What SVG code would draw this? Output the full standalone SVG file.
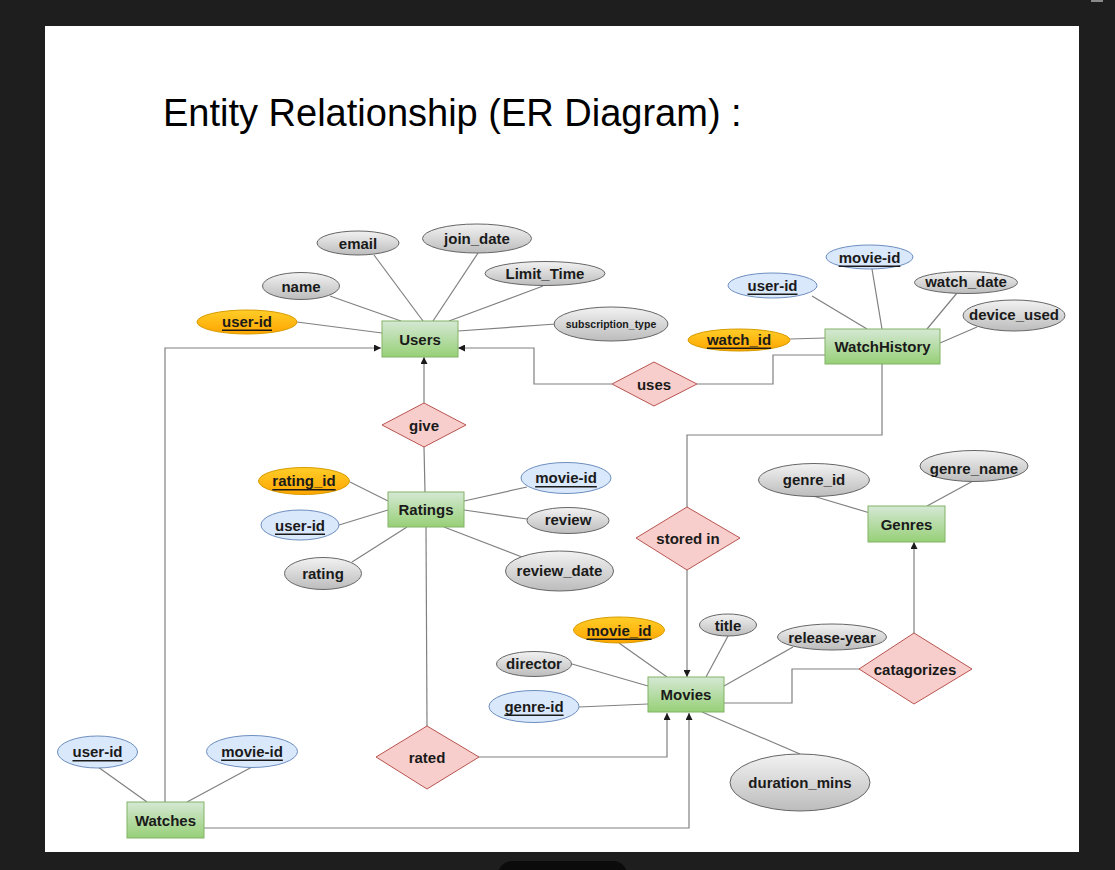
<svg xmlns="http://www.w3.org/2000/svg" width="1115" height="870" viewBox="0 0 1115 870">
<defs>
<linearGradient id="gGreen" x1="0" y1="0" x2="0" y2="1"><stop offset="0" stop-color="#d5e8d4"/><stop offset="1" stop-color="#97d077"/></linearGradient>
<linearGradient id="gGray" x1="0" y1="0" x2="0" y2="1"><stop offset="0" stop-color="#f2f2f2"/><stop offset="1" stop-color="#bcbcbc"/></linearGradient>
<linearGradient id="gOrange" x1="0" y1="0" x2="0" y2="1"><stop offset="0" stop-color="#ffcd28"/><stop offset="1" stop-color="#ffa500"/></linearGradient>
<marker id="arr" viewBox="0 0 10 10" refX="10" refY="5" markerWidth="7" markerHeight="7" markerUnits="userSpaceOnUse" orient="auto"><path d="M0,0 L10,5 L0,10 Z" fill="#1a1a1a"/></marker>
</defs>
<style>
.ent{fill:url(#gGreen);stroke:#82b366;stroke-width:1}
.rel{fill:#f8cecc;stroke:#b85450;stroke-width:1}
.att{fill:url(#gGray);stroke:#666666;stroke-width:1}
.key{fill:url(#gOrange);stroke:#d79b00;stroke-width:1}
.fk{fill:#dae8fc;stroke:#6c8ebf;stroke-width:1}
.t{font-family:"Liberation Sans",Arial,sans-serif;font-weight:bold;font-size:15px;fill:#1a1a1a;text-anchor:middle;dominant-baseline:central}
.u{text-decoration:underline}
.ln{fill:none;stroke:#808080;stroke-width:1.2}
.la{fill:none;stroke:#808080;stroke-width:1.2;marker-end:url(#arr)}
</style>
<rect x="0" y="0" width="1115" height="870" fill="#1e1e1e"/>
<rect x="1091" y="0" width="12" height="2" fill="#8a8a8a"/>
<rect x="45" y="26" width="1034" height="826" fill="#ffffff"/>
<rect x="498" y="861" width="129" height="30" rx="14" fill="#0b0b0b"/>
<text x="163" y="126" font-family="'Liberation Sans',Arial,sans-serif" font-size="38" fill="#000000">Entity Relationship (ER Diagram) :</text>

<g id="connectors">
<line class="ln" x1="297" y1="322" x2="382" y2="333"/>
<line class="ln" x1="330" y1="296" x2="401" y2="321"/>
<line class="ln" x1="374" y1="255" x2="423" y2="321"/>
<line class="ln" x1="478" y1="253" x2="433" y2="321"/>
<line class="ln" x1="543" y1="286" x2="449" y2="321"/>
<line class="ln" x1="556" y1="324" x2="458" y2="331"/>
<line class="ln" x1="812" y1="296" x2="867" y2="329"/>
<line class="ln" x1="872" y1="269" x2="882" y2="329"/>
<line class="ln" x1="957" y1="293" x2="927" y2="329"/>
<line class="ln" x1="977" y1="327" x2="940" y2="343"/>
<line class="ln" x1="790" y1="339" x2="825" y2="338"/>
<line class="ln" x1="350" y1="482" x2="388" y2="501"/>
<line class="ln" x1="339" y1="525" x2="388" y2="510"/>
<line class="ln" x1="352" y1="562" x2="407" y2="527"/>
<line class="ln" x1="527" y1="487" x2="464" y2="501"/>
<line class="ln" x1="527" y1="519" x2="464" y2="510"/>
<line class="ln" x1="522" y1="557" x2="444" y2="527"/>
<line class="ln" x1="619" y1="643" x2="667" y2="677"/>
<line class="ln" x1="728" y1="636" x2="706" y2="677"/>
<line class="ln" x1="793" y1="647" x2="724" y2="686"/>
<line class="ln" x1="572" y1="664" x2="648" y2="686"/>
<line class="ln" x1="579" y1="707" x2="648" y2="704"/>
<line class="ln" x1="800" y1="754" x2="702" y2="712"/>
<line class="ln" x1="98" y1="767" x2="147" y2="802"/>
<line class="ln" x1="252" y1="767" x2="187" y2="802"/>
<line class="ln" x1="813" y1="496" x2="870" y2="513"/>
<line class="ln" x1="973" y1="481" x2="927" y2="506"/>
<line class="la" x1="424" y1="403" x2="424" y2="357"/>
<line class="ln" x1="425" y1="492" x2="424" y2="447"/>
<line class="ln" x1="426" y1="527" x2="427" y2="726"/>
<polyline class="ln" points="825,355 773,355 773,384 697,384"/>
<polyline class="la" points="612,384 534,384 534,348 458,348"/>
<polyline class="la" points="165,802 165,348 381,348"/>
<polyline class="la" points="204,828 689,828 689,713"/>
<polyline class="la" points="479,757 667,757 667,713"/>
<polyline class="ln" points="882,364 882,435 687,435 687,507"/>
<line class="la" x1="687" y1="570" x2="687" y2="677"/>
<polyline class="ln" points="724,703 792,703 792,669 859,669"/>
<line class="la" x1="914" y1="633" x2="914" y2="542"/>
</g>

<g id="Users"><rect class="ent" x="382" y="321" width="76" height="36"/><text class="t" x="420" y="339">Users</text></g>
<g id="WatchHistory"><rect class="ent" x="825" y="329" width="115" height="35"/><text class="t" x="882.5" y="346.5">WatchHistory</text></g>
<g id="Ratings"><rect class="ent" x="388" y="492" width="76" height="35"/><text class="t" x="426" y="509.5">Ratings</text></g>
<g id="Movies"><rect class="ent" x="648" y="677" width="76" height="35"/><text class="t" x="686" y="694.5">Movies</text></g>
<g id="Watches"><rect class="ent" x="127" y="802" width="77" height="36"/><text class="t" x="165.5" y="820">Watches</text></g>
<g id="Genres"><rect class="ent" x="868" y="506" width="77" height="36"/><text class="t" x="906.5" y="524">Genres</text></g>

<g id="give"><polygon class="rel" points="424,403 466,425 424,447 382,425"/><text class="t" x="424" y="425">give</text></g>
<g id="uses"><polygon class="rel" points="654,362 697,384 654,406 612,384"/><text class="t" x="654" y="384">uses</text></g>
<g id="storedin"><polygon class="rel" points="687,507 740,538 687,570 636,538"/><text class="t" x="688" y="538">stored in</text></g>
<g id="rated"><polygon class="rel" points="427,726 479,757 427,789 376,757"/><text class="t" x="427" y="757">rated</text></g>
<g id="catagorizes"><polygon class="rel" points="914,633 972,669 914,704 859,669"/><text class="t" x="915" y="669">catagorizes</text></g>

<g id="u_email"><ellipse class="att" cx="358" cy="243" rx="41" ry="12"/><text class="t" x="358" y="243">email</text></g>
<g id="u_join_date"><ellipse class="att" cx="477" cy="238.5" rx="54.5" ry="14.5"/><text class="t" x="477" y="238">join_date</text></g>
<g id="u_limit_time"><ellipse class="att" cx="545" cy="273.5" rx="60" ry="12"/><text class="t" x="545" y="273">Limit_Time</text></g>
<g id="u_name"><ellipse class="att" cx="301" cy="286" rx="38.5" ry="13.5"/><text class="t" x="301" y="286">name</text></g>
<g id="u_user_id"><ellipse class="key" cx="247" cy="322" rx="50" ry="12"/><text class="t u" x="247" y="321">user-id</text></g>
<g id="u_subscription_type"><ellipse class="att" cx="611" cy="324" rx="57" ry="17"/><text class="t" x="611" y="324" style="font-size:10.5px">subscription_type</text></g>

<g id="wh_movie_id"><ellipse class="fk" cx="869.5" cy="257" rx="43.5" ry="12"/><text class="t u" x="869.5" y="257">movie-id</text></g>
<g id="wh_user_id"><ellipse class="fk" cx="772.5" cy="285.5" rx="44.5" ry="12.5"/><text class="t u" x="772.5" y="285">user-id</text></g>
<g id="wh_watch_date"><ellipse class="att" cx="966" cy="282.5" rx="51.5" ry="11"/><text class="t" x="966" y="281">watch_date</text></g>
<g id="wh_device_used"><ellipse class="att" cx="1014" cy="315.5" rx="51" ry="15.5"/><text class="t" x="1014" y="314.5">device_used</text></g>
<g id="wh_watch_id"><ellipse class="key" cx="739" cy="340" rx="51" ry="11"/><text class="t u" x="739" y="339">watch_id</text></g>

<g id="r_rating_id"><ellipse class="key" cx="304" cy="481" rx="45.5" ry="13.5"/><text class="t u" x="304" y="480.5">rating_id</text></g>
<g id="r_user_id"><ellipse class="fk" cx="300" cy="525" rx="39" ry="15"/><text class="t u" x="300" y="525">user-id</text></g>
<g id="r_rating"><ellipse class="att" cx="323" cy="573.5" rx="38.5" ry="16"/><text class="t" x="323" y="573.5">rating</text></g>
<g id="r_movie_id"><ellipse class="fk" cx="566" cy="478" rx="45" ry="15.5"/><text class="t u" x="566" y="477.5">movie-id</text></g>
<g id="r_review"><ellipse class="att" cx="568" cy="520.5" rx="41" ry="13"/><text class="t" x="568" y="519.5">review</text></g>
<g id="r_review_date"><ellipse class="att" cx="559.5" cy="571" rx="54" ry="20"/><text class="t" x="559.5" y="570">review_date</text></g>

<g id="m_movie_id"><ellipse class="key" cx="619" cy="630" rx="45.5" ry="13"/><text class="t u" x="619" y="630">movie_id</text></g>
<g id="m_title"><ellipse class="att" cx="728" cy="625" rx="28.5" ry="11"/><text class="t" x="728" y="625">title</text></g>
<g id="m_release_year"><ellipse class="att" cx="832" cy="637" rx="54.5" ry="13"/><text class="t" x="832" y="637">release-year</text></g>
<g id="m_director"><ellipse class="att" cx="534" cy="664" rx="37.5" ry="12.5"/><text class="t" x="534" y="663.5">director</text></g>
<g id="m_genre_id"><ellipse class="fk" cx="534" cy="706.5" rx="45" ry="16"/><text class="t u" x="534" y="706">genre-id</text></g>
<g id="m_duration_mins"><ellipse class="att" cx="800" cy="782.5" rx="70" ry="28.5"/><text class="t" x="800" y="782">duration_mins</text></g>

<g id="w_user_id"><ellipse class="fk" cx="97.5" cy="752" rx="40" ry="16"/><text class="t u" x="97.5" y="751.5">user-id</text></g>
<g id="w_movie_id"><ellipse class="fk" cx="252" cy="751.5" rx="45.5" ry="16"/><text class="t u" x="252" y="751">movie-id</text></g>

<g id="g_genre_id"><ellipse class="att" cx="814" cy="480" rx="55.5" ry="16.5"/><text class="t" x="814" y="479">genre_id</text></g>
<g id="g_genre_name"><ellipse class="att" cx="974" cy="466" rx="54" ry="15.5"/><text class="t" x="974" y="468">genre_name</text></g>
</svg>
